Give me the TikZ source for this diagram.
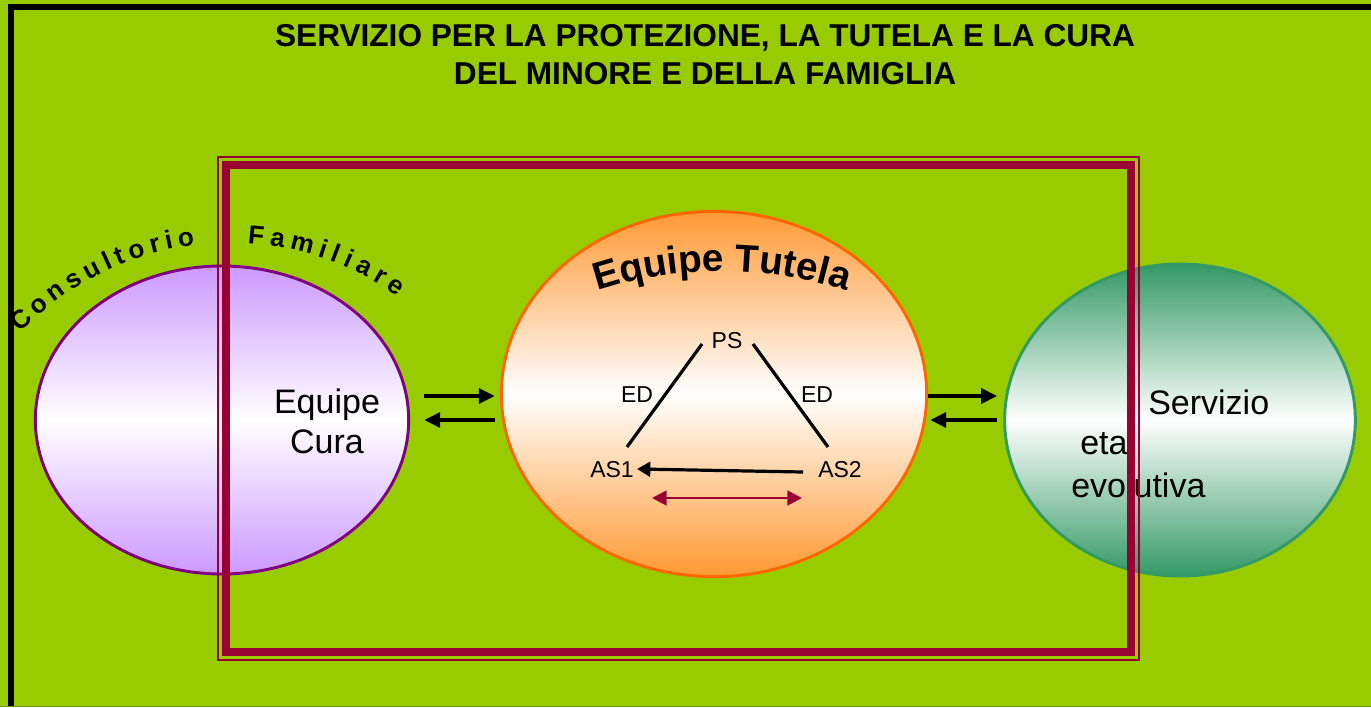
\documentclass[tikz,border=0pt]{standalone}
\usepackage{fontspec}
\setmainfont{Liberation Sans}
\usetikzlibrary{shapes.geometric,arrows.meta,decorations.text}
\pgfdeclarelayer{background}
\pgfdeclarelayer{foreground}
\pgfsetlayers{background,main,foreground}
\definecolor{slidecol}{HTML}{99CC00}
\definecolor{edgecol}{HTML}{669900}
\definecolor{framecol}{HTML}{990033}
\definecolor{curacol}{HTML}{CC99FF}
\definecolor{curaline}{HTML}{800080}
\definecolor{tutelacol}{HTML}{FF9933}
\definecolor{tutelaline}{HTML}{FF6600}
\definecolor{evocol}{HTML}{339966}
\newcommand{\tutelafont}{\fontsize{29pt}{34pt}\selectfont\bfseries}
\newcommand{\consfont}{\fontsize{19.5pt}{22pt}\selectfont\bfseries}
\tikzset{
  team/.style 2 args = {
    ellipse,
    draw = #1,
    line width = 2.2pt,
    top color = #2,
    bottom color = #2,
    middle color = white,
    inner sep = 0pt,
    },
  title/.style = {
    font = \fontsize{23.7pt}{28.5pt}\selectfont\bfseries,
    align = center,
    inner sep = 0pt,
    },
  big text/.style = {
    font = \fontsize{25.5pt}{30pt}\selectfont,
    align = center,
    inner sep = 0pt,
    },
  role/.style = {
    font = \fontsize{17.25pt}{20pt}\selectfont,
    inner sep = 0pt,
    },
  flow/.style = {-{Triangle[length=12pt,width=11pt]}, line width=3pt},
  link/.style = {line width=2.4pt},
  pass/.style = {-{Triangle[length=10pt,width=11pt]}, line width=2.4pt},
  swap/.style = {{Triangle[length=11pt,width=11pt]}-{Triangle[length=11pt,width=11pt]}, framecol, line width=2pt},
  arch text/.style 2 args = {
    decorate,
    decoration = {text along path, text = {|#1|#2}},
    },
}

\begin{document}
\begin{tikzpicture}[x=0.75pt,y=-0.75pt]
    \useasboundingbox (0,0) rectangle (1371,707);

    %slide
    \begin{pgfonlayer}{background}
        \fill[slidecol] (0,0) rectangle (1371,707);
        \draw[black,line width=4.5pt,line join=miter] (11,707) -- (11,7) -- (1371,7);
        \draw[edgecol,line width=1pt] (0,706.5) -- (1371,706.5);
    \end{pgfonlayer}

    \node[title] (title) at (705,55) {SERVIZIO PER LA PROTEZIONE, LA TUTELA E LA CURA\\DEL MINORE E DELLA FAMIGLIA};

    %teams
    \node[team={curaline}{curacol}, minimum width=280pt, minimum height=231pt] (cura) at (222,420) {};
    \node[team={tutelaline}{tutelacol}, minimum width=319pt, minimum height=274pt] (tutela) at (714,394) {};
    \node[team={evocol}{evocol}, minimum width=263pt, minimum height=234pt] (evo) at (1180,420) {};

    \node[big text] (curatext) at (327,421) {Equipe\\Cura};
    \node[big text, anchor=base west] (servizio) at (1148,414) {Servizio};
    \node[big text, anchor=base west] (eta) at (1080,454) {eta};
    \node[big text, anchor=base west] (evolutiva) at (1071,497) {evolutiva};

    %arched titles
    \path[arch text={\tutelafont}{Equipe Tutela}, decoration={text align=center}]
        (722,669) ++(248:398) arc[start angle=248, end angle=292, radius=398];
    \path[arch text={\consfont}{Consultorio}, decoration={text align={fit to path}}]
        (230,532) ++(223.5:289) arc[start angle=223.5, end angle=263, radius=289];
    \path[arch text={\consfont}{Familiare}, decoration={text align={fit to path}}]
        (230,532) ++(273.5:289) arc[start angle=273.5, end angle=305.5, radius=289];

    %equipe tutela
    \node[role] (ps) at (727,341) {PS};
    \node[role] (as1) at (612,470) {AS1};
    \node[role] (as2) at (840,470) {AS2};
    \node[role] (edl) at (637,395) {ED};
    \node[role] (edr) at (817,395) {ED};

    \draw[link] ([shift={(-25,3)}]ps.center) -- ([shift={(15,-23)}]as1.center);
    \draw[link] ([shift={(26,3)}]ps.center) -- ([shift={(-12,-23)}]as2.center);
    \draw[pass] ([shift={(-37,2)}]as2.center) -- ([shift={(25,-1)}]as1.center);
    \draw[swap] ([shift={(40,28)}]as1.center) -- ([shift={(-38,28)}]as2.center);

    % Paths
    \draw[flow, shorten <=10.5pt, shorten >=3.75pt] ([yshift=18pt]cura.east) -- ([yshift=-1.5pt]tutela.west);
    \draw[flow, shorten <=3.75pt, shorten >=10.5pt] ([yshift=-19.5pt]tutela.west) -- (cura.east);
    \draw[flow, shorten >=4.5pt] ([yshift=-1.5pt]tutela.east) -- ([yshift=18pt]evo.west);
    \draw[flow, shorten <=4.5pt, shorten >=1.5pt] (evo.west) -- ([yshift=-19.5pt]tutela.east);

    %frame
    \begin{pgfonlayer}{foreground}
        \draw[framecol, line width=6pt] (226,165) rectangle (1130.5,652);
        \draw[framecol, line width=1.5pt] (218,157) rectangle (1138.5,659.5);
    \end{pgfonlayer}
\end{tikzpicture}
\end{document}
